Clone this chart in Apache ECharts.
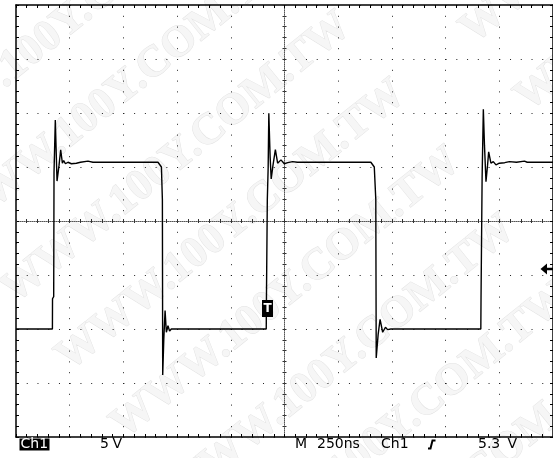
<!DOCTYPE html>
<html><head><meta charset="utf-8">
<script src="https://cdn.jsdelivr.net/npm/echarts@6/dist/echarts.min.js"></script>
<style>html,body{margin:0;padding:0;background:#fff}#c{width:553px;height:458px}</style>
</head><body><div id="c"></div>
<script>
// ---- data (time in ns, voltage in V; 250 ns/div, 5 V/div) ----
const timeNs = [0,169.5,170,175.5,177,183,187,191,200,208,216,222,230,242,258,281,300,335,358,661,670,677,681.5,683,688,694,700,707.5,715,723,
  1165,1166,1170,1174,1177,1183,1188,1196,1207.5,1218,1233.6,1249,1265,1288,1310,1652,1660,1668,1675,1677,1686,1695,1707,1720,1730,1745,
  2164,2165,2170,2175.7,2181,2188,2195,2200.5,2211,2222,2234.5,2250,2275,2297,2330,2367,2380,2500];
const volts = [0,0,2.8,3.0,14.5,19.35,16.5,13.7,15.1,16.6,15.35,15.6,15.3,15.44,15.3,15.35,15.44,15.54,15.44,15.44,15.3,15.0,12,-4.26,-1,1.7,-0.3,0.3,-0.2,0,
  0,3,12,15,19.97,16,13.9,15.1,16.6,15.35,15.66,15.3,15.4,15.5,15.44,15.44,15.3,15.0,12,-2.69,-0.5,0.9,-0.3,0.16,-0.06,0,
  0,3,14,20.34,17,13.64,15.1,16.4,15.35,15.5,15.2,15.35,15.4,15.5,15.44,15.54,15.44,15.44];
const xTicks = {min: 0, max: 2500, step: 250};
const yTicks = {min: -10, max: 30, step: 5};
const labels = {ch: 'Ch1', scale: '5 V', m: 'M', time: '250ns', trigCh: 'Ch1', trigLvl: '5.3', unit: 'V', trig: 'T'};
const watermark = 'WWW.100Y.COM.TW';

const G = {left: 16, top: 5, width: 537, height: 432};
const minorYpx = G.height / 40, minorXpx = G.width / 50;
const traceData = timeNs.map((t, i) => [t, volts[i]]);

const hid = {show: false};
function baseAxis(o) {
  return Object.assign({type: 'value', axisLabel: hid, splitLine: hid}, o);
}
const border = {color: '#000', width: 1.5};
const xAxes = [
  baseAxis({position: 'bottom', min: xTicks.min, max: xTicks.max, interval: xTicks.step,
    axisLine: {show: true, onZero: false, lineStyle: border},
    axisTick: {show: true, inside: true, length: 3, lineStyle: {color: '#000'}},
    minorTick: {show: true, splitNumber: 5, length: 3, lineStyle: {color: '#000'}},
    splitLine: {show: true, lineStyle: {color: '#222', width: 1, type: [1, minorYpx - 1]}}}),
  baseAxis({position: 'top', min: xTicks.min, max: xTicks.max, interval: xTicks.step,
    axisLine: {show: true, onZero: false, lineStyle: border},
    axisTick: {show: true, inside: true, length: 3, lineStyle: {color: '#000'}},
    minorTick: {show: true, splitNumber: 5, length: 3, lineStyle: {color: '#000'}}}),
  baseAxis({position: 'bottom', min: -(xTicks.max - xTicks.min) / 2, max: (xTicks.max - xTicks.min) / 2, interval: xTicks.step,
    axisLine: {show: true, onZero: true, onZeroAxisIndex: 1, lineStyle: {color: '#555', width: 1, type: [1, 1]}},
    axisTick: {show: true, inside: true, length: 2, lineStyle: {color: '#333'}},
    minorTick: {show: true, splitNumber: 5, length: 2, lineStyle: {color: '#333'}}}),
  baseAxis({position: 'bottom', min: -(xTicks.max - xTicks.min) / 2, max: (xTicks.max - xTicks.min) / 2, interval: xTicks.step,
    axisLine: {show: true, onZero: true, onZeroAxisIndex: 1, lineStyle: {opacity: 0}},
    axisTick: {show: true, inside: false, length: 2, lineStyle: {color: '#333'}},
    minorTick: {show: true, splitNumber: 5, length: 2, lineStyle: {color: '#333'}}})
];
const yHalf = (yTicks.max - yTicks.min) / 2;
const yAxes = [
  baseAxis({position: 'left', min: yTicks.min, max: yTicks.max, interval: yTicks.step,
    axisLine: {show: true, onZero: false, lineStyle: border},
    axisTick: {show: true, inside: true, length: 3, lineStyle: {color: '#000'}},
    minorTick: {show: true, splitNumber: 5, length: 3, lineStyle: {color: '#000'}},
    splitLine: {show: true, lineStyle: {color: '#222', width: 1, type: [1, minorXpx - 1]}}}),
  baseAxis({position: 'left', min: -yHalf, max: yHalf, interval: yTicks.step,
    axisLine: {show: true, onZero: true, onZeroAxisIndex: 2, lineStyle: {color: '#555', width: 1, type: [1, 1]}},
    axisTick: {show: true, inside: true, length: 2, lineStyle: {color: '#333'}},
    minorTick: {show: true, splitNumber: 5, length: 2, lineStyle: {color: '#333'}}}),
  baseAxis({position: 'left', min: -yHalf, max: yHalf, interval: yTicks.step,
    axisLine: {show: true, onZero: true, onZeroAxisIndex: 2, lineStyle: {opacity: 0}},
    axisTick: {show: true, inside: false, length: 2, lineStyle: {color: '#333'}},
    minorTick: {show: true, splitNumber: 5, length: 2, lineStyle: {color: '#333'}}}),
  baseAxis({position: 'right', min: yTicks.min, max: yTicks.max, interval: yTicks.step,
    axisLine: {show: true, onZero: false, lineStyle: border},
    axisTick: {show: true, inside: true, length: 3, lineStyle: {color: '#000'}},
    minorTick: {show: true, splitNumber: 5, length: 3, lineStyle: {color: '#000'}}})
];

// watermark rows (decoration)
const th = 39 * Math.PI / 180;
const dv = [Math.cos(th), -Math.sin(th)], nv = [Math.sin(th), Math.cos(th)];
const wmEls = [];
for (let k = 0; k <= 8; k++) {
  const n = -5 + 87 * k;
  for (let c = -1; c <= 1; c++) {
    const s = -180 + 520 * c;
    wmEls.push({type: 'text', z: -10, x: s * dv[0] + n * nv[0], y: s * dv[1] + n * nv[1], rotation: th, silent: true,
      style: {text: watermark, font: 'bold 44px "Liberation Serif"', fill: '#f6f6f6', stroke: '#e3e3e3', lineWidth: 1,
        textAlign: 'left', textVerticalAlign: 'bottom'}});
  }
}

const txt = (t, x, color) => ({type: 'text', z: 20, x: x, y: 437, style: {text: t, font: '14px "DejaVu Sans"', fill: color || '#000', textAlign: 'left', textVerticalAlign: 'top'}});

const chart = echarts.init(document.getElementById('c'), null, {renderer: 'canvas'});
chart.setOption({
  animation: false,
  backgroundColor: '#fff',
  grid: {left: G.left, top: G.top, width: G.width, height: G.height, containLabel: false},
  xAxis: xAxes,
  yAxis: yAxes,
  series: [{type: 'line', xAxisIndex: 0, yAxisIndex: 0, data: traceData, symbol: 'none', showSymbol: false, z: 5,
    lineStyle: {color: '#000', width: 1.4}, silent: true}],
  graphic: wmEls.concat([
    {type: 'rect', z: 20, shape: {x: 19.5, y: 438.5, width: 30, height: 12}, style: {fill: '#000'}},
    txt(labels.ch, 20.5, '#fff'),
    txt(labels.scale.split(' ')[0], 100), txt(labels.scale.split(' ')[1], 112.5),
    txt(labels.m, 295), txt(labels.time, 317),
    txt(labels.trigCh, 381),
    {type: 'polyline', z: 20, shape: {points: [[428, 448.5], [430.5, 448.5], [432.5, 440.5], [435.5, 440.5]]}, style: {stroke: '#000', lineWidth: 2, fill: null}},
    txt(labels.trigLvl, 478), txt(labels.unit, 507.5),
    {type: 'rect', z: 20, shape: {x: 262, y: 300, width: 11, height: 17}, style: {fill: '#000'}},
    {type: 'text', z: 21, x: 267.5, y: 308.5, style: {text: labels.trig, font: 'bold 12px "DejaVu Sans"', fill: '#fff', textAlign: 'center', textVerticalAlign: 'middle'}},
    {type: 'polygon', z: 20, shape: {points: [[540.5, 269], [547, 263.5], [547, 274.5]]}, style: {fill: '#000'}},
    {type: 'line', z: 20, shape: {x1: 545, y1: 269, x2: 553, y2: 269}, style: {stroke: '#000', lineWidth: 2.5}}
  ])
});
</script></body></html>
